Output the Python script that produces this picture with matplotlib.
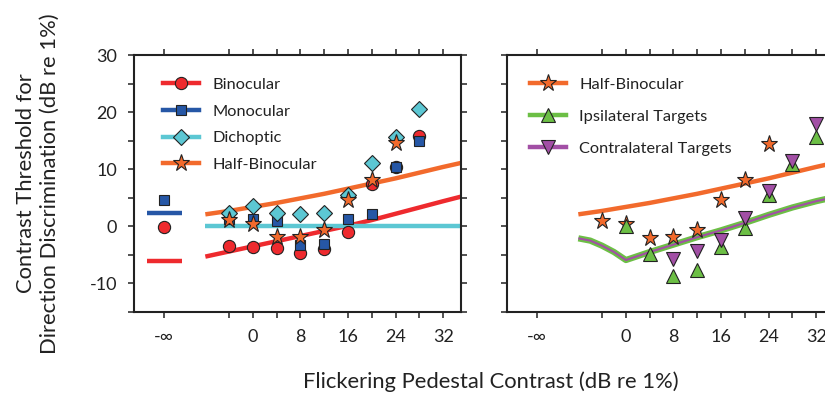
import matplotlib
matplotlib.use("Agg")
import matplotlib.pyplot as plt
import numpy as np

plt.rcParams['font.family'] = ['Lato', 'DejaVu Sans']
plt.rcParams['axes.unicode_minus'] = False

NEG_INF = -15  # position used for the "-inf" pedestal condition

# ---- Left panel data ----
pedestal = [-4, 0, 4, 8, 12, 16, 20, 24, 28]
binocular = [-3.4, -3.7, -3.8, -4.7, -4.0, -1.0, 7.4, 10.4, 15.9]
binocular_ninf = -0.2
monocular = [1.3, 1.2, 1.0, -3.3, -3.1, 1.2, 2.2, 10.4, 15.0]
monocular_ninf = 4.6
dichoptic = [2.3, 3.6, 2.3, 2.1, 2.3, 5.4, 11.1, 15.7, 20.6]
half_bino_ped = [-4, 0, 4, 8, 12, 16, 20, 24]
half_bino = [1.1, 0.4, -1.8, -1.8, -0.6, 4.6, 8.2, 14.6]

# model curves
curve_x = [-8, -4, 0, 4, 8, 12, 16, 20, 24, 28, 32, 35]
red_curve = [-5.3, -4.4, -3.5, -2.6, -1.7, -0.8, 0.1, 1.1, 2.2, 3.3, 4.4, 5.2]
orange_curve = [2.1, 2.7, 3.4, 4.1, 4.9, 5.7, 6.6, 7.5, 8.4, 9.4, 10.4, 11.1]
cyan_curve = [0, 0, 0, 0, 0, 0, 0, 0, 0, 0, 0, 0]
ninf_line_x = [-17.8, -12.0]
blue_ninf_level = 2.4
red_ninf_level = -6.1

# ---- Right panel data ----
ipsi_ped = [0, 4, 8, 12, 16, 20, 24, 28, 32]
ipsilateral = [0.0, -4.8, -8.7, -7.7, -3.6, -0.3, 5.5, 11.0, 15.7]
contra_ped = [8, 12, 16, 20, 24, 28, 32]
contralateral = [-5.8, -4.4, -2.4, 1.4, 6.2, 11.4, 17.9]
hb_right_ped = [-4, 0, 4, 8, 12, 16, 20, 24]
hb_right = [1.0, 0.4, -2.0, -1.9, -0.7, 4.6, 8.1, 14.5]
green_curve_x = [-8, -6, -4, -2, 0, 4, 8, 12, 16, 20, 24, 28, 32, 35]
green_curve = [-2.1, -2.5, -3.4, -4.5, -5.9, -4.5, -3.2, -1.9, -0.7, 0.6, 2.0, 3.3, 4.4, 5.1]

xtick_pos = [-15, -4, 0, 4, 8, 12, 16, 20, 24, 28, 32]
xtick_labels = ['-\u221e', '', '0', '', '8', '', '16', '', '24', '', '32']
ytick_pos = [-15, -10, -5, 0, 5, 10, 15, 20, 25, 30]
ytick_labels = ['', '-10', '', '0', '', '10', '', '20', '', '30']

RED = '#EE2A2E'
BLUE = '#2657A6'
CYAN = '#5CC7D3'
ORANGE = '#F26A2C'
GREEN = '#6CBF45'
PURPLE = '#A24FA5'
EDGE = '#222222'

W, H = 825, 399
fig = plt.figure(figsize=(W / 100, H / 100), dpi=100)
axL = fig.add_axes([134 / W, (H - 312) / H, 327 / W, 257 / H])
axR = fig.add_axes([507 / W, (H - 312) / H, 327 / W, 257 / H])

for ax in (axL, axR):
    ax.set_xlim(-20, 35)
    ax.set_ylim(-15, 30)
    ax.set_xticks(xtick_pos)
    ax.set_xticklabels(xtick_labels)
    ax.set_yticks(ytick_pos)
    ax.tick_params(direction='out', length=4, width=1.1, top=True, right=True,
                   labelsize=13, colors='#222222', pad=8)
    for s in ax.spines.values():
        s.set_linewidth(1.5)
        s.set_color('#222222')

axL.set_yticklabels(ytick_labels)
axR.set_yticklabels([''] * len(ytick_pos))

mk = dict(markeredgecolor=EDGE, markeredgewidth=0.8, linestyle='none')
LW = 3.2

# left panel lines
axL.plot(curve_x, red_curve, color=RED, lw=LW, solid_capstyle='butt', zorder=2)
axL.plot(curve_x, orange_curve, color=ORANGE, lw=LW, solid_capstyle='butt', zorder=2)
axL.plot(curve_x, cyan_curve, color=CYAN, lw=LW, solid_capstyle='butt', zorder=2)
axL.plot(ninf_line_x, [blue_ninf_level] * 2, color=BLUE, lw=LW, solid_capstyle='butt', zorder=2)
axL.plot(ninf_line_x, [red_ninf_level] * 2, color=RED, lw=LW, solid_capstyle='butt', zorder=2)

# left panel markers
axL.plot(pedestal, binocular, marker='o', ms=8.8, color=RED, zorder=3, **mk)
axL.plot([NEG_INF], [binocular_ninf], marker='o', ms=8.8, color=RED, zorder=3, **mk)
axL.plot(pedestal, monocular, marker='s', ms=7.8, color=BLUE, zorder=4, **mk)
axL.plot([NEG_INF], [monocular_ninf], marker='s', ms=7.8, color=BLUE, zorder=4, **mk)
axL.plot(pedestal, dichoptic, marker='D', ms=7.8, color=CYAN, zorder=5, **mk)
axL.plot(half_bino_ped, half_bino, marker='*', ms=12.5, color=ORANGE, zorder=6, **mk)

# legend handles
hL = [
    plt.Line2D([], [], color=RED, lw=LW, marker='o', ms=8.8, markerfacecolor=RED,
               markeredgecolor=EDGE, markeredgewidth=0.8),
    plt.Line2D([], [], color=BLUE, lw=LW, marker='s', ms=7.8, markerfacecolor=BLUE,
               markeredgecolor=EDGE, markeredgewidth=0.8),
    plt.Line2D([], [], color=CYAN, lw=LW, marker='D', ms=7.8, markerfacecolor=CYAN,
               markeredgecolor=EDGE, markeredgewidth=0.8),
    plt.Line2D([], [], color=ORANGE, lw=LW, marker='*', ms=12.5, markerfacecolor=ORANGE,
               markeredgecolor=EDGE, markeredgewidth=0.8),
]
legL = axL.legend(hL, ['Binocular', 'Monocular', 'Dichoptic', 'Half-Binocular'],
                  loc='upper left', bbox_to_anchor=(0.09, 0.912), frameon=False,
                  fontsize=11.8, handlelength=2.2, handletextpad=0.8,
                  labelspacing=0.74, borderpad=0, borderaxespad=0)
for t in legL.get_texts():
    t.set_color('#222222')

# right panel lines
axR.plot(curve_x, orange_curve, color=ORANGE, lw=LW, solid_capstyle='butt', zorder=2)
axR.plot(green_curve_x, green_curve, color=GREEN, lw=4.5, solid_capstyle='butt', zorder=2)
axR.plot(green_curve_x, green_curve, color=PURPLE, lw=1.5, solid_capstyle='butt', zorder=2)

axR.plot(hb_right_ped, hb_right, marker='*', ms=12.5, color=ORANGE, zorder=3, **mk)
axR.plot(ipsi_ped, ipsilateral, marker='^', ms=10, color=GREEN, zorder=4, **mk)
axR.plot(contra_ped, contralateral, marker='v', ms=10, color=PURPLE, zorder=5, **mk)

hR = [
    plt.Line2D([], [], color=ORANGE, lw=LW, marker='*', ms=12.5, markerfacecolor=ORANGE,
               markeredgecolor=EDGE, markeredgewidth=0.8),
    plt.Line2D([], [], color=GREEN, lw=LW, marker='^', ms=10, markerfacecolor=GREEN,
               markeredgecolor=EDGE, markeredgewidth=0.8),
    plt.Line2D([], [], color=PURPLE, lw=LW, marker='v', ms=10, markerfacecolor=PURPLE,
               markeredgecolor=EDGE, markeredgewidth=0.8),
]
legR = axR.legend(hR, ['Half-Binocular', 'Ipsilateral Targets', 'Contralateral Targets'],
                  loc='upper left', bbox_to_anchor=(0.07, 0.912), frameon=False,
                  fontsize=11.8, handlelength=2.2, handletextpad=0.8,
                  labelspacing=1.06, borderpad=0, borderaxespad=0)
for t in legR.get_texts():
    t.set_color('#222222')

fig.text(38 / W, 1 - 183.5 / H,
         'Contrast Threshold for\nDirection Discrimination (dB re 1%)',
         rotation=90, ha='center', va='center', fontsize=15.8, color='#222222',
         linespacing=1.2)
fig.text(491 / W, 1 - 382 / H, 'Flickering Pedestal Contrast (dB re 1%)',
         ha='center', va='center', fontsize=15.8, color='#222222')

fig.savefig('out.png', dpi=100)
